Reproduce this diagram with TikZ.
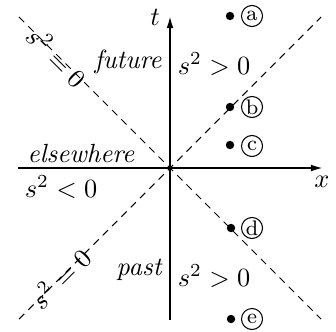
\documentclass[tikz,border=0pt]{standalone}
\usetikzlibrary{arrows.meta}
\begin{document}
\begin{tikzpicture}[x=0.38pt,y=-0.38pt,
  axis/.style={line width=0.7pt,-{Latex[length=4.6pt,width=2.6pt]}},
  cone/.style={line width=0.4pt,dash pattern=on 2.8pt off 2.2pt},
  lbl/.style={inner sep=0pt,anchor=center},
  dotpt/.style={circle,fill,inner sep=0pt,minimum size=3.2pt},
  ev/.style={circle,draw,line width=0.4pt,inner sep=0pt,minimum size=8pt,font=\footnotesize}]
\useasboundingbox (0,0) rectangle (336,331);
% axes
\coordinate (O) at (170,168);
\coordinate (xl) at (18,168);
\coordinate (xr) at (323,168);
\coordinate (tb) at (170,320);
\coordinate (tt) at (170,16);
\draw[axis] (xl) -- (xr);
\draw[axis] (tb) -- (tt);
% light cone
\coordinate (ul) at (19,17);
\coordinate (lr) at (321,319);
\coordinate (ll) at (19,319);
\coordinate (ur) at (321,17);
\draw[cone] (ul) -- (lr);
\draw[cone] (ll) -- (ur);
% axis labels
\node[lbl] (tlab) at (155,17) {$t$};
\node[lbl] (xlab) at (322,182) {$x$};
% cone labels
\node[lbl,rotate=-45] (c1) at (57,57) {$s^2=0$};
\node[lbl,rotate=45] (c2) at (60,278) {$s^2=0$};
% region labels
\node[lbl] (fut) at (128,62) {\itshape future};
\node[lbl] (s1) at (214,64) {$s^2>0$};
\node[lbl] (els) at (81,154) {\itshape elsewhere};
\node[lbl] (s2) at (61,187) {$s^2<0$};
\node[lbl] (pst) at (139,270) {\itshape past};
\node[lbl] (s3) at (214,276) {$s^2>0$};
% events
\node[dotpt] (pa) at (230,16) {};
\node[ev] (la) at (252,16) {a};
\node[dotpt] (pb) at (230,107) {};
\node[ev] (lb) at (252,107) {b};
\node[dotpt] (pc) at (230,145) {};
\node[ev] (lc) at (252,146) {c};
\node[dotpt] (pd) at (231,228) {};
\node[ev] (ld) at (252,228) {d};
\node[dotpt] (pe) at (231,319) {};
\node[ev] (le) at (252,319) {e};
\end{tikzpicture}
\end{document}
